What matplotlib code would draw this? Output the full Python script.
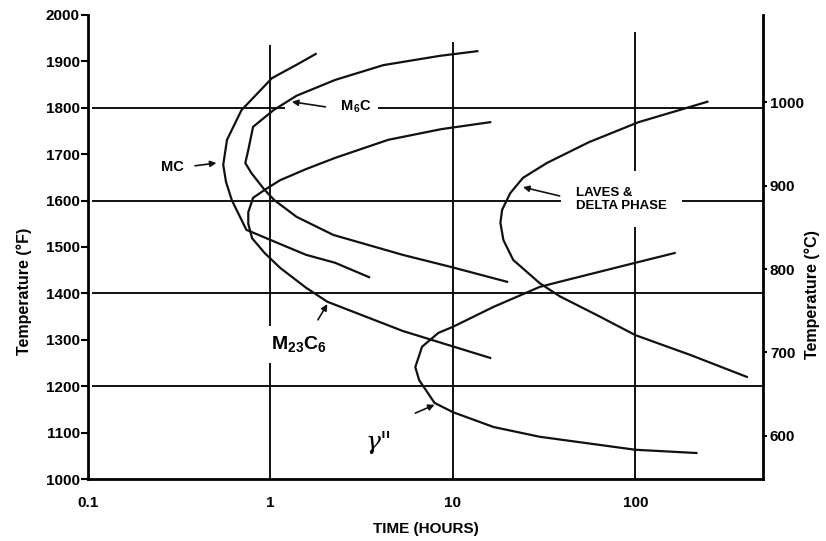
import matplotlib
matplotlib.use("Agg")
import matplotlib.pyplot as plt
from matplotlib.ticker import FixedLocator, FixedFormatter, NullLocator

plt.rcParams['font.family'] = ['Liberation Sans', 'DejaVu Sans']
plt.rcParams['font.weight'] = 'bold'
plt.rcParams['axes.labelweight'] = 'bold'
plt.rcParams['mathtext.fontset'] = 'custom'
plt.rcParams['mathtext.rm'] = 'Liberation Sans:bold'
plt.rcParams['mathtext.bf'] = 'Liberation Sans:bold'
plt.rcParams['mathtext.it'] = 'Liberation Sans:bold'

# curves: time (hours), temperature (F)
mc_t = [1.77, 1.38, 1.02, 0.694, 0.578, 0.551, 0.571, 0.614, 0.738, 1.09, 1.57, 2.26, 3.47]
mc_f = [1916, 1892, 1864, 1795, 1731, 1677, 1640, 1601, 1537, 1509, 1483, 1466, 1435]

m6c_t = [13.6, 8.5, 4.16, 2.26, 1.39, 1.04, 0.803, 0.756, 0.728, 0.784, 0.929, 1.05, 1.39, 2.21, 5.31, 9.75, 19.8]
m6c_f = [1922, 1912, 1892, 1860, 1826, 1795, 1759, 1709, 1681, 1660, 1623, 1601, 1565, 1526, 1483, 1457, 1425]

m23_t = [16.0, 8.64, 4.42, 2.26, 1.57, 1.13, 0.929, 0.803, 0.756, 0.756, 0.793, 0.929, 1.13, 1.57, 2.05, 5.31, 9.75, 16.0]
m23_f = [1769, 1754, 1731, 1692, 1668, 1644, 1623, 1606, 1575, 1550, 1519, 1487, 1455, 1412, 1382, 1319, 1287, 1261]

laves_t = [248, 104, 55.7, 32.7, 24.2, 20.6, 18.6, 18.2, 18.9, 21.4, 29.9, 38.4, 63.1, 100, 201, 408]
laves_f = [1813, 1769, 1726, 1681, 1649, 1616, 1580, 1552, 1515, 1472, 1422, 1394, 1351, 1310, 1267, 1220]

gam_t = [164, 100, 38.4, 29.9, 16.7, 10, 8.33, 6.77, 6.22, 6.53, 7.93, 10, 16.7, 29.9, 100, 216]
gam_f = [1487, 1466, 1425, 1414, 1371, 1328, 1315, 1285, 1241, 1213, 1164, 1144, 1112, 1091, 1063, 1056]

grid_f = [1200, 1400, 1600, 1800]
grid_t = [1, 10, 100]
grid_t_top = [1935, 1942, 1963]

x_ticks = [0.1, 1, 10, 100]
x_labels = ['0.1', '1', '10', '100']
f_ticks = list(range(1000, 2001, 100))
c_ticks = [600, 700, 800, 900, 1000]

fig = plt.figure(figsize=(8.26, 5.41), dpi=100)
ax = fig.add_axes([0.1065, 0.1146, 0.8172, 0.8577])
ax.set_xscale('log')
ax.set_xlim(0.1, 500)
ax.set_ylim(1000, 2000)

for f in grid_f:
    ax.axhline(f, xmin=0.008, xmax=1, color='#111111', lw=1.4, zorder=1)
ax.vlines(grid_t, 1000, grid_t_top, color='#111111', lw=1.4, zorder=1)

for t, f in [(mc_t, mc_f), (m6c_t, m6c_f), (m23_t, m23_f), (laves_t, laves_f), (gam_t, gam_f)]:
    ax.plot(t, f, color='#111111', lw=1.6, zorder=3)

box = dict(facecolor='white', edgecolor='none', pad=4)
arrow = dict(arrowstyle='-|>', color='#111111', lw=1.2, mutation_scale=9, shrinkA=0, shrinkB=0)

# labels sit under the curves but over the grid lines
ax.annotate('', xy=(0.506, 1681), xytext=(0.386, 1675), arrowprops=arrow, zorder=4)
ax.text(0.29, 1672, 'MC', fontsize=10.5, ha='center', va='center', bbox=box, zorder=2)

ax.text(3.55, 1802, '            M$_6$C', fontsize=10.5, ha='right', va='center',
        bbox=dict(facecolor='white', edgecolor='none', pad=5), zorder=2)
ax.annotate('', xy=(1.31, 1813), xytext=(2.0, 1802), arrowprops=arrow, zorder=4)

ax.annotate('', xy=(2.05, 1377), xytext=(1.82, 1343), arrowprops=arrow, zorder=4)
ax.text(1.42, 1290, 'M$_{23}$C$_6$', fontsize=14, ha='center', va='center',
        bbox=dict(facecolor='white', edgecolor='none', pad=6), zorder=2)

ax.annotate('', xy=(24.2, 1629), xytext=(38.4, 1610), arrowprops=arrow, zorder=4)
ax.text(47.4, 1603, 'LAVES &\nDELTA PHASE', fontsize=9.5, ha='left', va='center',
        linespacing=1.1, bbox=dict(facecolor='white', edgecolor='none', pad=11), zorder=2)

ax.annotate('', xy=(7.93, 1160), xytext=(6.22, 1142), arrowprops=arrow, zorder=4)
ax.text(3.91, 1078, 'γ"', fontsize=18, ha='center', va='center',
        family=['DejaVu Serif'], fontstyle='italic', fontweight='normal', zorder=2)

ax.xaxis.set_major_locator(FixedLocator(x_ticks))
ax.xaxis.set_major_formatter(FixedFormatter(x_labels))
ax.xaxis.set_minor_locator(NullLocator())
ax.tick_params(axis='x', length=0, pad=12, labelsize=11)
ax.set_yticks(f_ticks)
ax.tick_params(axis='y', direction='out', length=5, width=1.5, labelsize=11, pad=1)

for s in ['left', 'bottom']:
    ax.spines[s].set_linewidth(2)
ax.spines['top'].set_visible(False)
ax.spines['right'].set_visible(False)

ax.set_xlabel('TIME (HOURS)', fontsize=11)
ax.xaxis.set_label_coords(0.5, -0.092)
ax.set_ylabel('Temperature (°F)', fontsize=11.5)
ax.yaxis.set_label_coords(-0.083, 0.405)

ax2 = ax.twinx()
ax2.set_ylim(548, 1105)
ax2.set_yticks(c_ticks)
ax2.tick_params(axis='y', direction='out', length=3, width=1.5, labelsize=11, pad=2)
ax2.spines['right'].set_linewidth(2)
for s in ['left', 'bottom', 'top']:
    ax2.spines[s].set_visible(False)
ax2.set_ylabel('Temperature (°C)', fontsize=11.5, rotation=90)
ax2.yaxis.set_label_coords(1.062, 0.397)

fig.savefig('out.png', dpi=100)
